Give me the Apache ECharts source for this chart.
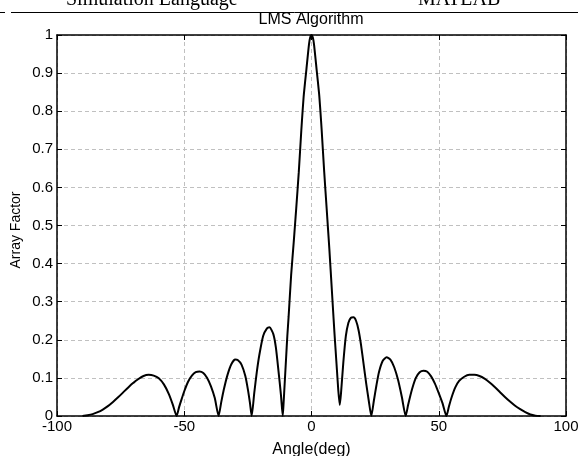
<!DOCTYPE html>
<html>
<head>
<meta charset="utf-8">
<title>LMS Algorithm</title>
<script src="https://cdn.jsdelivr.net/npm/echarts@6/dist/echarts.min.js"></script>
<style>
  html, body { margin: 0; padding: 0; background: #fff; }
  #chart { width: 578px; height: 456px; }
</style>
</head>
<body>
<div id="chart"></div>
<script>
// angle (deg) and array factor
const angles = [
  -90, -88, -86, -84, -82, -80, -78, -76, -74, -72, -70, -68, -66, -64, -62, -60, -58, -56, -54.5, -53,
  -52, -51, -50, -48.5, -47, -45.5, -44, -42.5, -41, -39.5, -38, -36.5,
  -35.5, -34.5, -33, -31.5, -30, -29, -27.5, -26, -25, -24.2, -23.5,
  -22.5, -21.5, -20.5, -19, -17.5, -16.5, -15, -14, -13, -12, -11.3,
  -11, -10.5, -10, -9.5, -9, -8, -7, -6.5, -6, -5, -4, -3.5, -3, -2, -1, -0.5, 0,
  0.5, 1, 2, 3, 3.5, 4, 5, 6, 6.5, 7, 8, 9, 9.5, 10, 10.5, 11.1,
  11.6, 12.5, 13.5, 14.5, 15.5, 16.5, 17.5, 18.5, 19.5, 20.5, 21.5, 22.5, 23.5,
  24.5, 25.5, 26.5, 28, 29.5, 31, 32.5, 34, 35.5, 37,
  38, 39.5, 41, 42.5, 44, 45.5, 47, 48.5, 50, 51.5, 53,
  54, 55, 56.5, 58, 60, 62, 64, 66, 68, 70, 72, 74, 76, 78, 80, 82, 84, 86, 88, 90
];
const arrayFactor = [
  0, 0.002, 0.005, 0.010, 0.017, 0.026, 0.037, 0.049, 0.062, 0.075, 0.087, 0.097, 0.105, 0.108, 0.106, 0.099, 0.083, 0.057, 0.030, 0,
  0.024, 0.045, 0.065, 0.090, 0.106, 0.115, 0.117, 0.113, 0.100, 0.078, 0.047, 0,
  0.035, 0.068, 0.108, 0.136, 0.148, 0.147, 0.135, 0.105, 0.070, 0.035, 0,
  0.060, 0.115, 0.160, 0.210, 0.230, 0.233, 0.215, 0.180, 0.120, 0.055, 0,
  0.03, 0.09, 0.15, 0.21, 0.26, 0.37, 0.455, 0.50, 0.545, 0.64, 0.75, 0.80, 0.845, 0.91, 0.975, 0.994, 1.0,
  0.994, 0.975, 0.91, 0.845, 0.80, 0.75, 0.64, 0.54, 0.49, 0.44, 0.33, 0.22, 0.17, 0.12, 0.07, 0.029,
  0.060, 0.140, 0.210, 0.245, 0.258, 0.259, 0.250, 0.225, 0.185, 0.135, 0.085, 0.040, 0,
  0.040, 0.080, 0.115, 0.145, 0.154, 0.148, 0.128, 0.095, 0.050, 0,
  0.030, 0.070, 0.100, 0.115, 0.119, 0.116, 0.104, 0.085, 0.060, 0.033, 0,
  0.025, 0.048, 0.075, 0.092, 0.103, 0.108, 0.108, 0.105, 0.098, 0.088, 0.076, 0.063, 0.050, 0.038, 0.027, 0.018, 0.010, 0.004, 0.001, 0
];
const xTicks = [-100, -50, 0, 50, 100];
const yTicks = [0, 0.1, 0.2, 0.3, 0.4, 0.5, 0.6, 0.7, 0.8, 0.9, 1];

const font = "Liberation Sans";

let myChart = echarts.init(document.getElementById("chart"));

const tickInside = { show: true, inside: true, length: 5, lineStyle: { color: "#000", width: 1 } };
const boxLine = { show: true, onZero: false, lineStyle: { color: "#000", width: 1.5 } };
const gridLine = { show: true, lineStyle: { color: "#c0c0c0", type: [4, 3], width: 1 } };

const option = {
  animation: false,
  grid: { left: 57, right: 12, top: 35, bottom: 40, outerBoundsMode: "none" },
  xAxis: [
    {
      type: "value",
      min: xTicks[0],
      max: xTicks[xTicks.length - 1],
      interval: 50,
      position: "bottom",
      name: "Angle(deg)",
      nameLocation: "middle",
      nameGap: 26,
      nameTextStyle: { fontFamily: font, fontSize: 16, color: "#000" },
      axisLine: boxLine,
      axisTick: tickInside,
      axisLabel: { fontFamily: font, fontSize: 15, color: "#000", margin: 3 },
      splitLine: gridLine,
    },
    {
      type: "value",
      min: xTicks[0],
      max: xTicks[xTicks.length - 1],
      interval: 50,
      position: "top",
      axisLine: boxLine,
      axisTick: tickInside,
      axisLabel: { show: false },
      splitLine: { show: false },
    },
  ],
  yAxis: [
    {
      type: "value",
      min: yTicks[0],
      max: yTicks[yTicks.length - 1],
      interval: 0.1,
      position: "left",
      axisLine: boxLine,
      axisTick: tickInside,
      axisLabel: { fontFamily: font, fontSize: 15, color: "#000", margin: 4 },
      splitLine: gridLine,
    },
    {
      type: "value",
      min: yTicks[0],
      max: yTicks[yTicks.length - 1],
      interval: 0.1,
      position: "right",
      axisLine: boxLine,
      axisTick: tickInside,
      axisLabel: { show: false },
      splitLine: { show: false },
    },
  ],
  series: [
    {
      type: "line",
      xAxisIndex: 0,
      yAxisIndex: 0,
      data: angles.map((a, i) => [a, arrayFactor[i]]),
      showSymbol: false,
      smooth: 0.2,
      lineStyle: { color: "#000", width: 2 },
    },
  ],
  graphic: [
    // title, centred over the plot area
    {
      type: "text",
      x: 311,
      y: 20,
      style: { text: "LMS Algorithm", font: "16px 'Liberation Sans'", fill: "#000", align: "center", verticalAlign: "middle" },
    },
    {
      type: "text",
      x: 16,
      y: 230,
      rotation: Math.PI / 2,
      style: { text: "Array Factor", font: "14px 'Liberation Sans'", fill: "#000", align: "center", verticalAlign: "middle" },
    },
    // the clipped header line of the page the figure was cut from
    {
      type: "text",
      x: 66,
      y: 10,
      style: { text: "Simulation Language", font: "20px 'Liberation Serif'", fill: "#000", verticalAlign: "bottom" },
    },
    {
      type: "text",
      x: 418,
      y: 10,
      style: { text: "MATLAB", font: "20px 'Liberation Serif'", fill: "#000", verticalAlign: "bottom" },
    },
    { type: "line", shape: { x1: 0, y1: 12.5, x2: 5, y2: 12.5 }, style: { stroke: "#000", lineWidth: 1 } },
    { type: "line", shape: { x1: 11, y1: 12.5, x2: 578, y2: 12.5 }, style: { stroke: "#000", lineWidth: 1 } },
  ],
};

myChart.setOption(option);
</script>
</body>
</html>
